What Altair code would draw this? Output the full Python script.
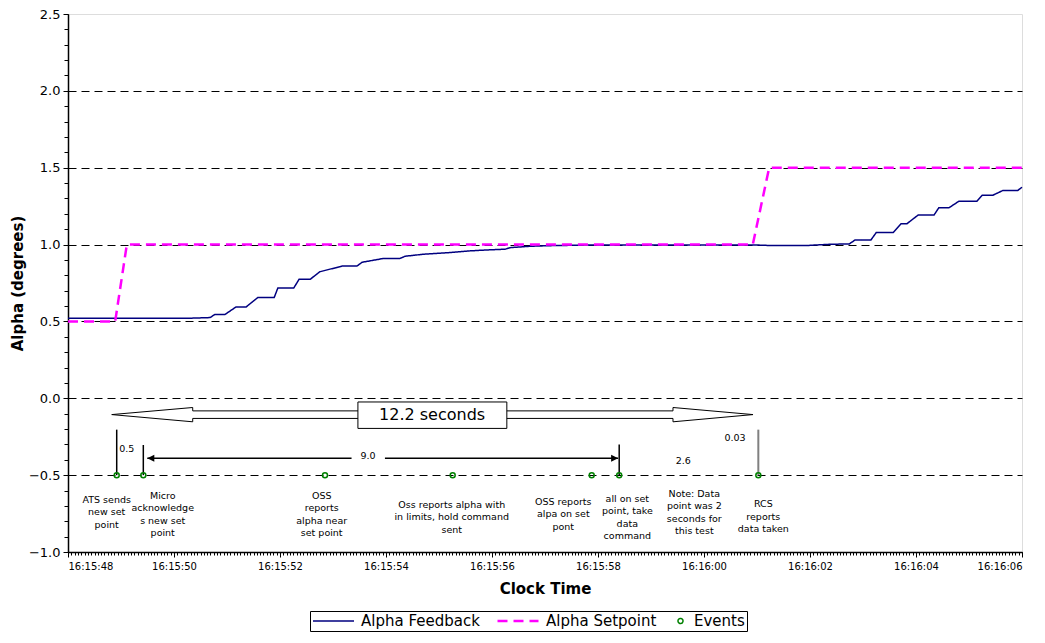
import json
import altair as alt
import pandas as pd

# ---------------- data (x = seconds after 16:15:48) ----------------
fb_t = [0.0, 2.30, 2.68, 2.77, 2.96, 3.17, 3.36, 3.58, 3.89, 3.96, 4.26, 4.36, 4.57, 4.75,
        5.17, 5.45, 5.55, 5.94, 6.26, 6.36, 6.70, 7.21, 7.58, 7.91, 8.25, 8.34, 8.72, 9.09,
        10.04, 11.92, 12.92, 13.25, 13.94, 14.38, 14.74, 14.85, 15.15, 15.25, 15.57, 15.72,
        15.83, 16.04, 16.34, 16.43, 16.62, 16.81, 17.15, 17.25, 17.45, 17.64, 17.92, 18.0]
fb_v = [0.521, 0.521, 0.525, 0.545, 0.545, 0.594, 0.594, 0.655, 0.655, 0.718, 0.718, 0.774,
        0.774, 0.823, 0.86, 0.86, 0.885, 0.909, 0.909, 0.924, 0.937, 0.948, 0.959, 0.965,
        0.97, 0.98, 0.989, 0.993, 0.998, 0.998, 0.998, 0.994, 0.994, 1.002, 1.004, 1.03,
        1.03, 1.078, 1.078, 1.136, 1.136, 1.192, 1.192, 1.239, 1.239, 1.282, 1.282, 1.321,
        1.321, 1.352, 1.352, 1.373]

sp_t = [0.0, 0.89, 1.11, 12.92, 13.23, 18.0]
sp_v = [0.5, 0.5, 1.0, 1.0, 1.5, 1.5]

ev_t = [0.919, 1.421, 4.849, 7.258, 9.881, 10.40, 13.025]
ev_v = [-0.5, -0.5, -0.5, -0.5, -0.5, -0.5, -0.5]

series_names = ["Alpha Feedback", "Alpha Setpoint", "Events"]
series_colors = ["#000080", "#FF00FF", "#008000"]
series_dash = [[1, 0], [10, 6], [1, 0]]
series_width = [1.5, 2.5, 1.5]
series_shape = ["stroke", "stroke", "circle"]
series_size = [1681, 1681, 25]

# annotation texts
ann_text = ["ATS sends\nnew set\npoint", "Micro\nacknowledge\ns new set\npoint",
            "OSS\nreports\nalpha near\nset point",
            "Oss reports alpha with\nin limits, hold command\nsent",
            "OSS reports\nalpa on set\npont", "all on set\npoint, take\ndata\ncommand",
            "Note: Data\npoint was 2\nseconds for\nthis test", "RCS\nreports\ndata taken"]
ann_t = [0.730, 1.787, 4.787, 7.240, 9.345, 10.553, 11.817, 13.119]
ann_v = [-0.628, -0.602, -0.602, -0.661, -0.639, -0.622, -0.589, -0.656]

num_text = ["0.5", "9.0", "2.6", "0.03"]
num_t = [1.11, 5.66, 11.61, 12.585]
num_v = [-0.330, -0.374, -0.406, -0.257]

# big hollow double arrow (12.2 seconds)
arrow_t = [0.825, 2.353, 2.353, 11.415, 11.415, 12.925, 11.415, 11.415, 2.353, 2.353, 0.825]
arrow_v = [-0.106, -0.060, -0.082, -0.082, -0.060, -0.106, -0.153, -0.131, -0.131, -0.153, -0.106]
box_t = [5.47, 8.28]
box_v = [-0.024, -0.196]
box_label = "12.2 seconds"
box_label_t = 6.87
box_label_v = -0.11

# marker lines
rule_t = [0.919, 1.421, 10.40]
rule_top = [-0.204, -0.304, -0.30]
gray_rule_t = [13.025]
gray_rule_top = [-0.204]
rule_bottom = -0.5

# 9.0 arrow
seg_t1 = [1.496, 5.98]
seg_t2 = [5.35, 10.38]
seg_v = -0.39

# axes
x_ticks = [0, 2, 4, 6, 8, 10, 12, 14, 16, 18]
x_labels = ["16:15:48", "16:15:50", "16:15:52", "16:15:54", "16:15:56", "16:15:58",
            "16:16:00", "16:16:02", "16:16:04", "16:16:06"]
x_minor = [i / 16 for i in range(289)]
y_ticks = [-1.0, -0.5, 0.0, 0.5, 1.0, 1.5, 2.0, 2.5]
y_minor = [round(-1.0 + 0.1 * i, 1) for i in range(36)]

FONT = "DejaVu Sans"

# ---------------- frames ----------------
fb_df = pd.DataFrame({"t": fb_t, "v": fb_v, "series": series_names[0]})
sp_df = pd.DataFrame({"t": sp_t, "v": sp_v, "series": series_names[1]})
ev_df = pd.DataFrame({"t": ev_t, "v": ev_v, "series": series_names[2]})
ann_df = pd.DataFrame({"t": ann_t, "v": ann_v, "label": ann_text})
num_df = pd.DataFrame({"t": num_t, "v": num_v, "label": num_text})
arrow_df = pd.DataFrame({"t": arrow_t, "v": arrow_v, "i": list(range(len(arrow_t)))})
box_df = pd.DataFrame({"t": [box_t[0]], "t2": [box_t[1]], "v": [box_v[0]], "v2": [box_v[1]]})
box_lbl_df = pd.DataFrame({"t": [box_label_t], "v": [box_label_v], "label": [box_label]})
rule_df = pd.DataFrame({"t": rule_t, "v": rule_top, "v2": [rule_bottom] * len(rule_t)})
grule_df = pd.DataFrame({"t": gray_rule_t, "v": gray_rule_top, "v2": [rule_bottom]})
seg_df = pd.DataFrame({"t": seg_t1, "t2": seg_t2, "v": [seg_v, seg_v]})
lhead_df = pd.DataFrame({"t": [seg_t1[0]], "v": [seg_v]})
rhead_df = pd.DataFrame({"t": [seg_t2[1]], "v": [seg_v]})

xs = alt.Scale(domain=[0, 18], nice=False, zero=False)
ys = alt.Scale(domain=[-1.0, 2.5], nice=False, zero=False)

x_main = alt.Axis(title="Clock Time", values=x_ticks, orient="bottom",
                  labelExpr=json.dumps(x_labels) + "[round(datum.value / 2)]",
                  tickSize=5, labelPadding=4, titlePadding=10, grid=False,
                  domainColor="black", domainWidth=1.5, tickColor="black",
                  labelFontSize=10, labelColor="black", labelFont=FONT,
                  titleFontSize=15, titleFontWeight="bold", titleColor="black", titleFont=FONT,
                  labelOverlap=False)
x_minor_ax = alt.Axis(title="", values=x_minor, orient="bottom", labels=False, domain=False,
                      grid=False, tickSize=3, tickColor="black")
y_main = alt.Axis(title="Alpha (degrees)", values=y_ticks, format=".1f", orient="left",
                  tickSize=5, labelPadding=3, titlePadding=3,
                  grid=True, gridColor="black", gridDash=[8, 5], gridWidth=1,
                  gridOpacity={"condition": {"test": "datum.value > 2.4", "value": 0}, "value": 1},
                  domainColor="black", domainWidth=1.5, tickColor="black",
                  labelFontSize=13, labelColor="black", labelFont=FONT,
                  titleFontSize=15, titleFontWeight="bold", titleColor="black", titleFont=FONT)
y_minor_ax = alt.Axis(title="", values=y_minor, orient="left", labels=False, domain=False,
                      grid=False, tickSize=4, tickColor="black")

LEG = alt.Legend(
    title=None, orient="none", legendX=242, legendY=597, direction="horizontal",
    labelFont=FONT, labelFontSize=15, labelColor="black", labelOffset=6,
    columnPadding=16, padding=2, strokeColor="black", symbolFillColor="transparent",
    clipHeight=16)

color = alt.Color("series:N", scale=alt.Scale(domain=series_names, range=series_colors), legend=LEG)
dash = alt.StrokeDash("series:N", scale=alt.Scale(type="ordinal", domain=series_names, range=series_dash), legend=LEG)
swidth = alt.StrokeWidth("series:N", scale=alt.Scale(type="ordinal", domain=series_names, range=series_width), legend=LEG)
shape = alt.Shape("series:N", scale=alt.Scale(type="ordinal", domain=series_names, range=series_shape), legend=LEG)
size = alt.Size("series:N", scale=alt.Scale(type="ordinal", domain=series_names, range=series_size), legend=LEG)


def X(field="t", axis=None):
    return alt.X(f"{field}:Q", scale=xs, axis=axis)


def Y(field="v", axis=None):
    return alt.Y(f"{field}:Q", scale=ys, axis=axis)


fb_layer = alt.Chart(fb_df).mark_line().encode(
    x=X(axis=x_main), y=Y(axis=y_main), color=color, strokeDash=dash, strokeWidth=swidth)
sp_layer = alt.Chart(sp_df).mark_line().encode(
    x=X(), y=Y(), color=color, strokeDash=dash, strokeWidth=swidth)
arrow_layer = alt.Chart(arrow_df).mark_line(color="black", strokeWidth=1).encode(
    x=X(), y=Y(), order="i:Q")
box_layer = alt.Chart(box_df).mark_rect(fill="white", stroke="black", strokeWidth=1).encode(
    x=X(), x2="t2:Q", y=Y(), y2="v2:Q")
box_txt = alt.Chart(box_lbl_df).mark_text(font=FONT, fontSize=16, color="black",
                                          align="center", baseline="middle").encode(
    x=X(), y=Y(), text="label:N")
rule_layer = alt.Chart(rule_df).mark_rule(color="black", strokeWidth=1.5).encode(
    x=X(), y=Y(), y2="v2:Q")
grule_layer = alt.Chart(grule_df).mark_rule(color="#808080", strokeWidth=2).encode(
    x=X(), y=Y(), y2="v2:Q")
seg_layer = alt.Chart(seg_df).mark_rule(color="black", strokeWidth=1.5).encode(
    x=X(), x2="t2:Q", y=Y())
lhead = alt.Chart(lhead_df).mark_point(shape="M0,0L2,-1L2,1Z", size=49, filled=True,
                                       color="black", opacity=1).encode(x=X(), y=Y())
rhead = alt.Chart(rhead_df).mark_point(shape="M0,0L-2,-1L-2,1Z", size=49, filled=True,
                                       color="black", opacity=1).encode(x=X(), y=Y())
num_layer = alt.Chart(num_df).mark_text(font=FONT, fontSize=9.5, color="black",
                                        align="center", baseline="middle").encode(
    x=X(), y=Y(), text="label:N")
ev_layer = alt.Chart(ev_df).mark_point(filled=False, strokeWidth=1.5, opacity=1).encode(
    x=X(axis=x_minor_ax), y=Y(axis=y_minor_ax), color=color, shape=shape, size=size)
ann_layer = alt.Chart(ann_df).mark_text(font=FONT, fontSize=9.5, color="black", align="center",
                                        baseline="top", lineBreak="\n", lineHeight=12.5).encode(
    x=X(), y=Y(), text="label:N")

chart = alt.layer(
    fb_layer, sp_layer, arrow_layer, box_layer, box_txt, rule_layer, grule_layer,
    seg_layer, lhead, rhead, num_layer, ev_layer, ann_layer
).resolve_axis(x="independent", y="independent").properties(
    width=954, height=538,
    autosize=alt.AutoSizeParams(type="none"),
    padding={"left": 60, "top": 6, "right": 12, "bottom": 83},
    background="white",
).configure_view(stroke="#808080", strokeWidth=1.5).configure(font=FONT)

chart.save("out.html", embed_options={"renderer": "svg", "actions": False})
